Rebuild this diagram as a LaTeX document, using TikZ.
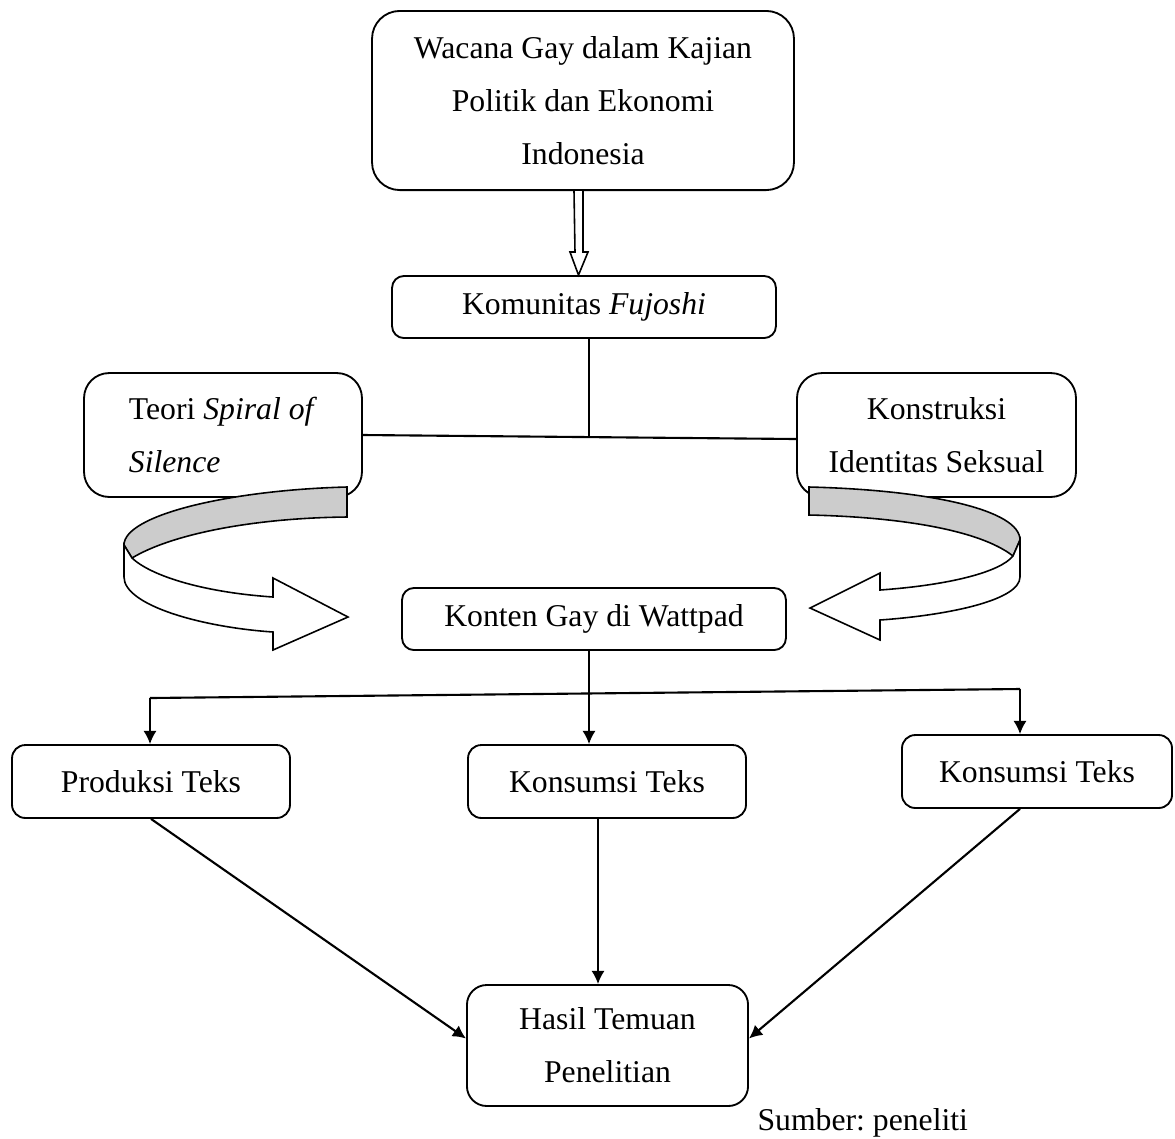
\documentclass[tikz,border=0pt]{standalone}
\usepackage{fontspec}
\setmainfont{Liberation Serif}
\usetikzlibrary{arrows.meta,calc}

\begin{document}
\begin{tikzpicture}[x=0.3785pt,y=-0.3785pt,
  box/.style={draw, line width=0.7pt, align=center, inner sep=0pt,
    font=\fontsize{12}{20}\selectfont},
  arr/.style={line width=0.8pt, -{Latex[length=5pt,width=5pt]}},
  ln/.style={line width=0.8pt}]

\useasboundingbox (0,0) rectangle (1175,1138);

\node [box, rounded corners=10.5pt, minimum width=159.7pt, minimum height=67.8pt] (wacana) at (583,100.5)
  {Wacana Gay dalam Kajian\\Politik dan Ekonomi\\Indonesia};
\node [box, rounded corners=4.5pt, minimum width=145.3pt, minimum height=23.5pt] (komunitas) at (584,307)
  {Komunitas \textit{Fujoshi}};
\node [box, rounded corners=9.5pt, minimum width=105.2pt, minimum height=46.9pt, align=left] (teori) at (223,435)
  {Teori \textit{Spiral of}\\\textit{Silence}};
\node [box, rounded corners=9.5pt, minimum width=105.6pt, minimum height=46.9pt] (konstruksi) at (936.5,435)
  {Konstruksi\\Identitas Seksual};
\node [box, rounded corners=4.5pt, minimum width=145.3pt, minimum height=23.5pt] (konten) at (594,619)
  {Konten Gay di Wattpad};
\node [box, rounded corners=5pt, minimum width=105.2pt, minimum height=27.6pt] (produksi) at (151,781.5)
  {Produksi Teks};
\node [box, rounded corners=5pt, minimum width=105.2pt, minimum height=27.6pt] (konsumsiA) at (607,781.5)
  {Konsumsi Teks};
\node [box, rounded corners=5pt, minimum width=102.2pt, minimum height=27.6pt] (konsumsiB) at (1037,771.5)
  {Konsumsi Teks};
\node [box, rounded corners=7.5pt, minimum width=106.4pt, minimum height=45.8pt] (hasil) at (607.5,1045.5)
  {Hasil Temuan\\Penelitian};
\node [anchor=base west, inner sep=0pt, font=\fontsize{12}{20}\selectfont] (sumber) at (757,1130) {Sumber:\ peneliti};

% hollow arrow down
\draw [line width=0.6pt, fill=white] ($(wacana.south)+(-9,0)$) -- ($(komunitas.north)+(-9,-23)$) -- ++(-5,0)
  -- ($(komunitas.north)+(-5.5,0)$) -- ($(komunitas.north)+(4,-23)$) -- ++(-5,0) -- ($(wacana.south)+(0,0)$);

% komunitas to the two theories
\coordinate (hub) at (589,437);
\draw [ln] (komunitas.south -| hub) -- (hub);
\draw [ln] (teori.east) -- ($(konstruksi.west)+(0,4)$);

% branches below konten
\coordinate (bl) at (150,698);
\coordinate (bm) at (589,693.5);
\coordinate (br) at (1020,689);
\draw [ln] (konten.south -| bm) -- (bm);
\draw [ln] (bl) -- (br);
\draw [arr] (bl) -- (bl |- produksi.north);
\draw [arr] (bm) -- (bm |- konsumsiA.north);
\draw [arr] (br) -- (br |- konsumsiB.north);

% into the findings
\draw [arr] (produksi.south) -- ($(hasil.west)+(0,-7)$);
\draw [arr] ($(konsumsiA.south)+(-9,0)$) -- ($(hasil.north)+(-9.5,0)$);
\draw [arr] (br |- konsumsiB.south) -- ($(hasil.east)+(0,-7)$);

% left ribbon arrow
\draw [line width=0.6pt, fill=black!20] (347,487) .. controls (230,490) and (124,515) .. (124,545)
  -- (132,558) .. controls (170,535) and (250,518) .. (347,517) -- cycle;
\draw [line width=0.6pt, fill=white] (124,545) -- (124,577) .. controls (124,605) and (200,627) .. (273,632)
  -- (273,650) -- (348,617) -- (273,578) -- (273,597) .. controls (200,592) and (150,575) .. (132,558) -- cycle;

% right ribbon arrow
\draw [line width=0.6pt, fill=black!20] (809,487) .. controls (930,490) and (1020,510) .. (1020,540)
  -- (1013,556) .. controls (980,530) and (900,517) .. (809,515) -- cycle;
\draw [line width=0.6pt, fill=white] (1020,540) -- (1020,577) .. controls (1020,600) and (950,615) .. (880,620)
  -- (880,640) -- (810,608) -- (880,573) -- (880,590) .. controls (950,585) and (1000,572) .. (1013,556) -- cycle;
\end{tikzpicture}
\end{document}
